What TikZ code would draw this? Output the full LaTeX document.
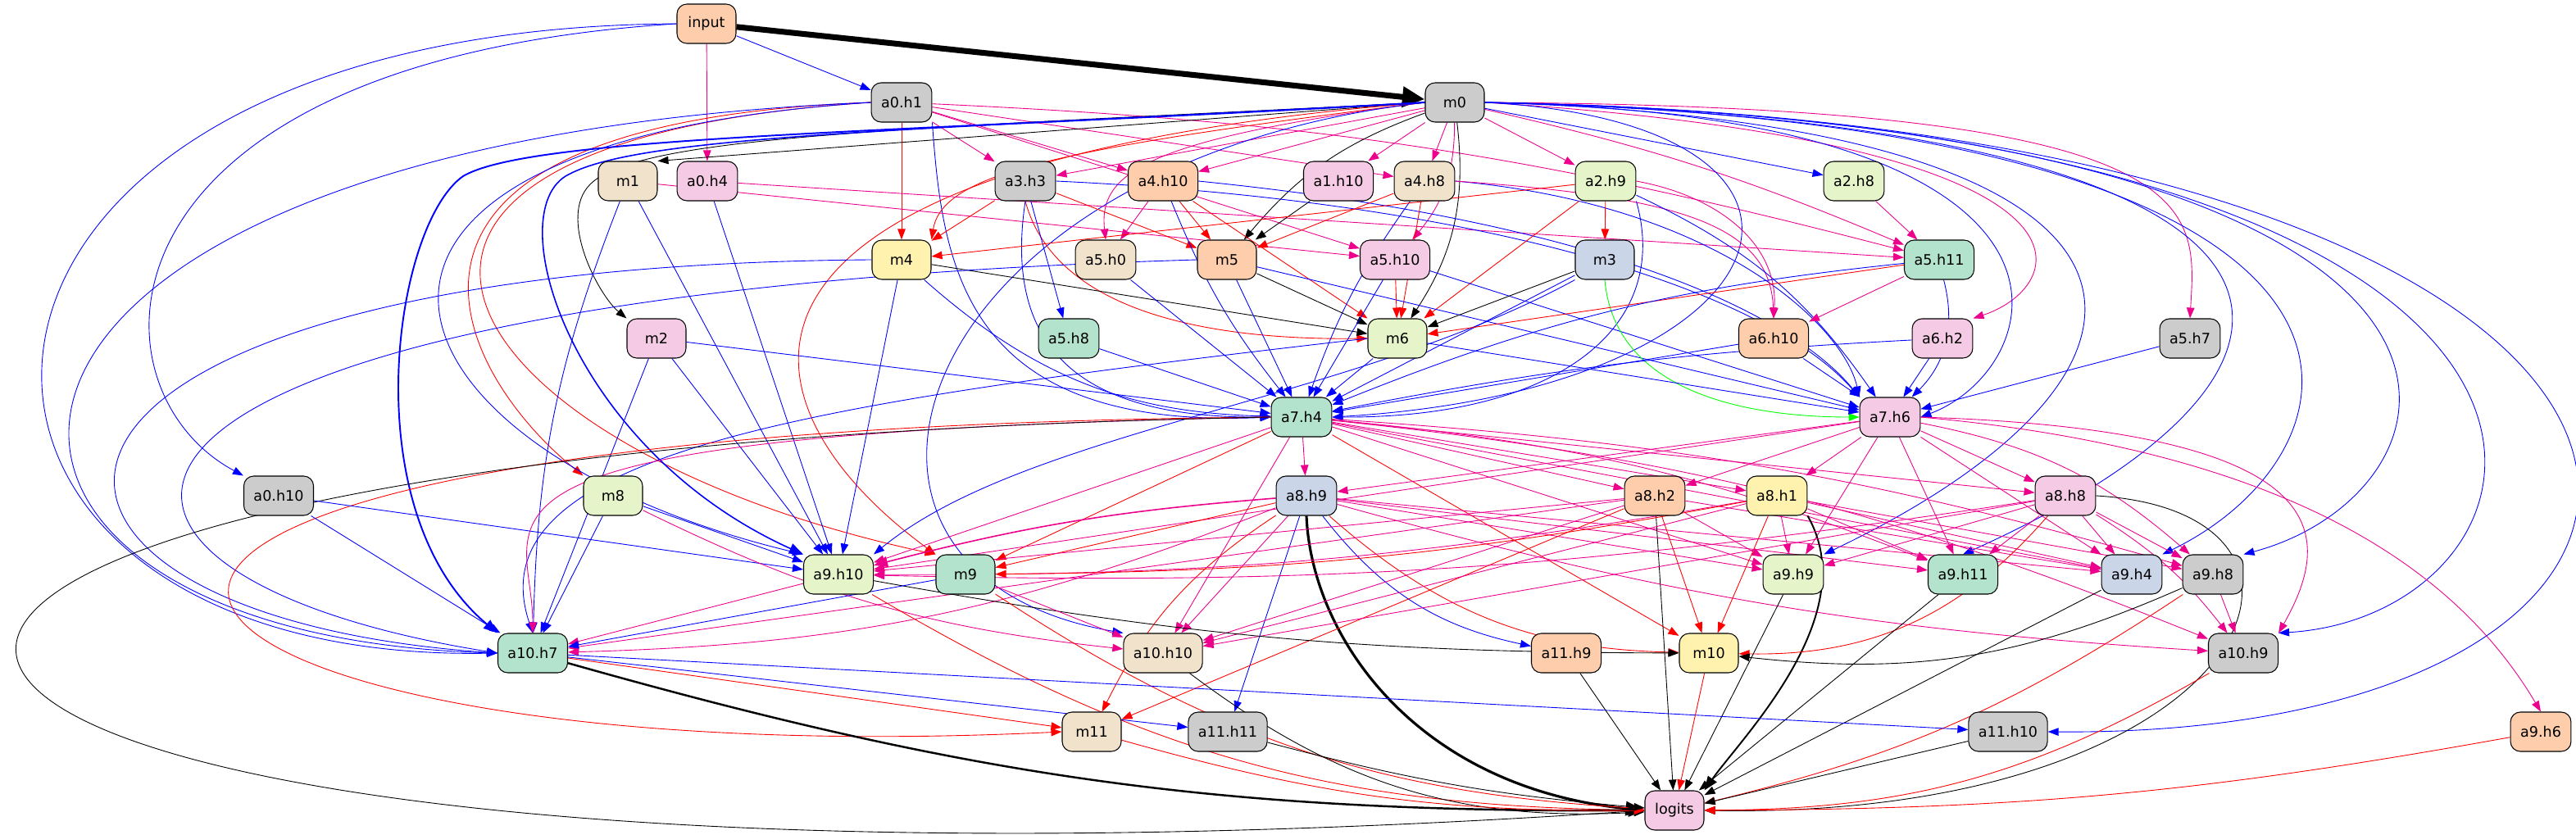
\documentclass[tikz,border=0pt]{standalone}
\usepackage{fontspec}
\setmainfont{DejaVu Sans}
\usetikzlibrary{shapes, arrows.meta}
\definecolor{pmint}{HTML}{B3E2CD}
\definecolor{ppeach}{HTML}{FDCDAC}
\definecolor{pblue}{HTML}{CBD5E8}
\definecolor{ppink}{HTML}{F4CAE4}
\definecolor{pgreen}{HTML}{E6F5C9}
\definecolor{pyellow}{HTML}{FFF2AE}
\definecolor{pbeige}{HTML}{F1E2CC}
\definecolor{pgray}{HTML}{CCCCCC}
\pgfdeclarelayer{edges}
\pgfsetlayers{edges,main}
\tikzstyle{box} = [rectangle, rounded corners=0.24cm, minimum width=1.44cm, minimum height=0.96cm, inner xsep=0.24cm, text centered, draw=black, line width=0.6pt, font=\fontsize{10}{12}\selectfont]
\tikzstyle{mintbox} = [box, fill=pmint]
\tikzstyle{peachbox} = [box, fill=ppeach]
\tikzstyle{bluebox} = [box, fill=pblue]
\tikzstyle{pinkbox} = [box, fill=ppink]
\tikzstyle{greenbox} = [box, fill=pgreen]
\tikzstyle{yellowbox} = [box, fill=pyellow]
\tikzstyle{beigebox} = [box, fill=pbeige]
\tikzstyle{graybox} = [box, fill=pgray]
\tikzstyle{conn} = [line width=0.5pt, ->, >={Triangle[length=0.26cm, width=0.19cm]}]
\tikzstyle{bluearrow} = [conn, draw=blue]
\tikzstyle{pinkarrow} = [conn, draw=magenta]
\tikzstyle{redarrow} = [conn, draw=red]
\tikzstyle{blackarrow} = [conn, draw=black]
\tikzstyle{greenarrow} = [conn, draw=green]
\tikzstyle{heavy} = [>={Triangle[length=0.34cm, width=0.26cm]}]
\begin{document}
\begin{tikzpicture}
    \useasboundingbox (0,0) rectangle (62.86,-20.38);
    \node (input) [peachbox] at (17.24,-0.58) {input};
    \node (a0h1) [graybox] at (22.00,-2.50) {a0.h1};
    \node (m0) [graybox] at (35.50,-2.50) {m0};
    \node (m1) [beigebox] at (15.32,-4.42) {m1};
    \node (a0h4) [pinkbox] at (17.26,-4.42) {a0.h4};
    \node (a3h3) [graybox] at (25.02,-4.42) {a3.h3};
    \node (a4h10) [peachbox] at (28.38,-4.42) {a4.h10};
    \node (a1h10) [pinkbox] at (32.66,-4.42) {a1.h10};
    \node (a4h8) [beigebox] at (34.76,-4.42) {a4.h8};
    \node (a2h9) [greenbox] at (39.18,-4.42) {a2.h9};
    \node (a2h8) [greenbox] at (45.24,-4.42) {a2.h8};
    \node (m4) [yellowbox] at (22.00,-6.34) {m4};
    \node (a5h0) [beigebox] at (26.98,-6.34) {a5.h0};
    \node (m5) [peachbox] at (29.94,-6.34) {m5};
    \node (a5h10) [pinkbox] at (34.04,-6.34) {a5.h10};
    \node (m3) [bluebox] at (39.16,-6.34) {m3};
    \node (a5h11) [mintbox] at (47.32,-6.34) {a5.h11};
    \node (m2) [pinkbox] at (16.02,-8.26) {m2};
    \node (a5h8) [mintbox] at (26.08,-8.26) {a5.h8};
    \node (m6) [greenbox] at (34.10,-8.26) {m6};
    \node (a6h10) [peachbox] at (43.28,-8.26) {a6.h10};
    \node (a6h2) [pinkbox] at (47.40,-8.26) {a6.h2};
    \node (a5h7) [graybox] at (53.44,-8.26) {a5.h7};
    \node (a7h4) [mintbox] at (31.76,-10.18) {a7.h4};
    \node (a7h6) [pinkbox] at (46.12,-10.18) {a7.h6};
    \node (a0h10) [graybox] at (6.80,-12.10) {a0.h10};
    \node (m8) [greenbox] at (14.96,-12.10) {m8};
    \node (a8h9) [bluebox] at (31.88,-12.10) {a8.h9};
    \node (a8h2) [peachbox] at (40.38,-12.10) {a8.h2};
    \node (a8h1) [yellowbox] at (43.36,-12.10) {a8.h1};
    \node (a8h8) [pinkbox] at (50.40,-12.10) {a8.h8};
    \node (a9h10) [greenbox] at (20.46,-14.02) {a9.h10};
    \node (m9) [mintbox] at (23.56,-14.02) {m9};
    \node (a9h9) [greenbox] at (43.76,-14.02) {a9.h9};
    \node (a9h11) [mintbox] at (47.90,-14.02) {a9.h11};
    \node (a9h4) [bluebox] at (52.02,-14.02) {a9.h4};
    \node (a9h8) [graybox] at (54.00,-14.02) {a9.h8};
    \node (a10h7) [mintbox] at (13.00,-15.94) {a10.h7};
    \node (a10h10) [beigebox] at (28.38,-15.94) {a10.h10};
    \node (a11h9) [peachbox] at (38.22,-15.94) {a11.h9};
    \node (m10) [yellowbox] at (41.70,-15.94) {m10};
    \node (a10h9) [graybox] at (54.74,-15.94) {a10.h9};
    \node (m11) [beigebox] at (26.64,-17.86) {m11};
    \node (a11h11) [graybox] at (29.96,-17.86) {a11.h11};
    \node (a11h10) [graybox] at (49.00,-17.86) {a11.h10};
    \node (a9h6) [peachbox] at (62.00,-17.86) {a9.h6};
    \node (logits) [pinkbox] at (40.86,-19.78) {logits};

    \begin{pgfonlayer}{edges}
    \draw [blackarrow, line width=4pt, >={Triangle[length=0.55cm, width=0.48cm]}] (input) -- (m0);
    \draw [bluearrow] (input) -- (a0h1);
    \draw [pinkarrow] (input) -- (a0h4);
    \draw [bluearrow] (input.west) .. controls (-3.3,-0.7) and (-3.3,-16.2) .. (a10h7.west);
    \draw [bluearrow] (input.west) .. controls (2.0,-1.5) and (2.0,-9.5) .. (a0h10.north west);

    \draw [pinkarrow] (a0h1) -- (a3h3);
    \draw [pinkarrow] (a0h1) -- (a4h10);
    \draw [pinkarrow] (a0h1) -- (a4h8);
    \draw [pinkarrow] (a0h1) -- (a5h10);
    \draw [pinkarrow] (a0h1) to[bend left=6] (a5h11);
    \draw [redarrow] (a0h1) -- (m4);
    \draw [redarrow] (a0h1.west) .. controls (8,-3) and (11,-9) .. (m8.north west);
    \draw [redarrow] (a0h1.west) .. controls (6,-3.5) and (11,-11) .. (m9.north west);
    \draw [bluearrow] (a0h1.south east) .. controls (23,-6.5) and (23.5,-10.5) .. (a7h4.west);
    \draw [bluearrow] (a0h1.west) .. controls (-3,-3.5) and (-3,-15.5) .. (a10h7.west);
    \draw [bluearrow] (a0h1.west) .. controls (6,-3.5) and (9,-11) .. (a9h10.north west);

    \draw [blackarrow] (m0.west) -- (m1.north east);
    \draw [blackarrow] (m0.west) .. controls (22,-3.15) and (15.6,-3.3) .. (14.4,-4.5) .. controls (13.6,-5.3) and (14.6,-7.2) .. (m2.north west);
    \draw [pinkarrow] (m0) -- (a3h3);
    \draw [pinkarrow] (m0) -- (a4h10);
    \draw [pinkarrow] (m0) -- (a1h10);
    \draw [pinkarrow] (m0) -- (a4h8);
    \draw [pinkarrow] (m0) -- (a2h9);
    \draw [bluearrow] (m0) -- (a2h8);
    \draw [redarrow] (m0.west) .. controls (26,-3.6) and (23,-4.2) .. (m4.north east);
    \draw [pinkarrow] (m0.west) .. controls (28,-3.4) and (26.8,-4.2) .. (a5h0.north);
    \draw [blackarrow] (m0) to[bend right=15] (m5);
    \draw [pinkarrow] (m0) to[bend left=20] (a5h10);
    \draw [blackarrow] (m0) to[bend left=20] (m6);
    \draw [pinkarrow] (m0) to[bend left=5] (a5h11);
    \draw [pinkarrow] (m0.east) .. controls (52,-3.5) and (50.5,-7) .. (a6h2.north east);
    \draw [pinkarrow] (m0.east) .. controls (54,-2.6) and (53.6,-5) .. (a5h7.north);
    \draw [bluearrow] (m0.east) .. controls (52,-2.8) and (50,-9) .. (a7h6.east);
    \draw [bluearrow] (m0.east) .. controls (46,-3) and (44,-9.5) .. (a7h4.east);
    \draw [bluearrow] (m0.east) .. controls (54,-3) and (54,-9) .. (a9h9.north east);
    \draw [bluearrow] (m0.east) .. controls (58,-3) and (58,-9) .. (a9h11.north);
    \draw [bluearrow] (m0.east) .. controls (60,-3) and (58,-11) .. (a9h4.north east);
    \draw [bluearrow] (m0.east) .. controls (63,-3) and (60.5,-12) .. (a9h8.north east);
    \draw [bluearrow] (m0.east) .. controls (66,-3) and (63,-15) .. (a10h9.north east);
    \draw [bluearrow] (m0.east) .. controls (69,-3) and (69,-18) .. (a11h10.east);
    \draw [redarrow] (m0.west) .. controls (16,-4) and (18,-10) .. (m9.north west);
    \draw [bluearrow, line width=1.1pt, heavy] (m0.west) .. controls (22,-3.25) and (13,-3.3) .. (11.3,-4.3) .. controls (9.6,-5.5) and (8.6,-12.5) .. (a10h7.north west);
    \draw [bluearrow, line width=0.9pt, heavy] (m0.west) .. controls (22,-3.2) and (15.5,-3.3) .. (13.8,-4.3) .. controls (12.2,-5.3) and (14,-11) .. (a9h10.north west);
    \draw [bluearrow] (m0.west) .. controls (22,-4) and (19,-14) .. (a10h10.north west);

    \draw [pinkarrow] (a0h4) -- (a5h11);
    \draw [bluearrow] (a0h4) -- (a9h10);
    \draw [pinkarrow] (m1) -- (a5h10);
    \draw [bluearrow] (m1) to[bend right=10] (a10h7);
    \draw [bluearrow] (m1) -- (a9h10);

    \draw [redarrow] (a3h3) -- (m4);
    \draw [redarrow] (a3h3) -- (m5);
    \draw [redarrow] (a3h3.south) .. controls (25.8,-7.8) and (30,-8.3) .. (m6.west);
    \draw [bluearrow] (a3h3) -- (a5h8);
    \draw [bluearrow] (a3h3.south) .. controls (24.4,-9) and (27,-10.2) .. (a7h4.west);
    \draw [bluearrow] (a3h3.east) .. controls (36,-4.9) and (43,-7) .. (a7h6.north west);
    \draw [pinkarrow] (a4h10) -- (a5h0);
    \draw [redarrow] (a4h10) -- (m5);
    \draw [redarrow] (a4h10) -- (m6);
    \draw [bluearrow] (a4h10) to[bend right=8] (a7h4);
    \draw [bluearrow] (a4h10.east) .. controls (40,-5.5) and (44,-8) .. (a7h6.north west);
    \draw [blackarrow] (a1h10) -- (m5);
    \draw [redarrow] (a4h8) -- (m5);
    \draw [redarrow] (a4h8) -- (m6);
    \draw [bluearrow] (a4h8) to[bend right=8] (a7h4);
    \draw [bluearrow] (a4h8.east) .. controls (42,-5) and (45,-8) .. (a7h6.north west);
    \draw [pinkarrow] (a4h8.east) .. controls (41,-4.8) and (43.2,-5.5) .. (a6h10.north);
    \draw [redarrow] (a2h9) -- (m4);
    \draw [redarrow] (a2h9) -- (m3);
    \draw [redarrow] (a2h9) -- (m6);
    \draw [bluearrow] (a2h9.south east) .. controls (40.8,-8) and (38,-10.2) .. (a7h4.east);
    \draw [bluearrow] (a2h9) to[bend left=15] (a7h6);
    \draw [pinkarrow] (a2h9.east) .. controls (42,-4.8) and (43.4,-6) .. (a6h10.north);
    \draw [pinkarrow] (a2h8) -- (a5h11);

    \draw [blackarrow] (m4) -- (m6);
    \draw [bluearrow] (m4) to[bend right=20] (a7h4);
    \draw [bluearrow] (m4) -- (a9h10);
    \draw [bluearrow] (m4.west) .. controls (-1.5,-6.5) and (-1.5,-15) .. (a10h7.west);
    \draw [bluearrow] (a5h0) -- (a7h4);
    \draw [blackarrow] (m5) -- (m6);
    \draw [bluearrow] (m5) -- (a7h4);
    \draw [bluearrow] (m5) -- (a7h6);
    \draw [bluearrow] (m5.west) .. controls (0,-7.2) and (0,-14) .. (a10h7.west);
    \draw [redarrow] (a5h10) -- (m6);
    \draw [bluearrow] (a5h10) -- (a7h4);
    \draw [bluearrow] (a5h10) -- (a7h6);
    \draw [blackarrow] (m3) -- (m6);
    \draw [bluearrow] (m3) -- (a7h4);
    \draw [greenarrow] (m3.south) to[out=-85, in=180] (a7h6.west);
    \draw [bluearrow] (m3.south west) .. controls (33,-9.8) and (25,-10.5) .. (a9h10.north east);
    \draw [redarrow] (a5h11) -- (m6);
    \draw [pinkarrow] (a5h11) -- (a6h10);
    \draw [bluearrow] (a5h11) to[bend right=8] (a7h4);
    \draw [bluearrow] (a5h11) to[bend left=30] (a7h6);

    \draw [bluearrow] (m2) -- (a7h4);
    \draw [bluearrow] (m2) -- (a9h10);
    \draw [bluearrow] (m2) -- (a10h7);
    \draw [bluearrow] (a5h8) -- (a7h4);
    \draw [bluearrow] (m6) -- (a7h4);
    \draw [bluearrow] (m6) -- (a7h6);
    \draw [bluearrow] (m6.west) .. controls (20,-9.8) and (11.5,-11) .. (a10h7.north);
    \draw [bluearrow] (a6h10) -- (a7h4);
    \draw [bluearrow] (a6h10) -- (a7h6);
    \draw [bluearrow] (a6h2) to[bend right=4] (a7h4);
    \draw [bluearrow] (a6h2) -- (a7h6);
    \draw [bluearrow] (a5h7) -- (a7h6);

    \draw [pinkarrow] (a7h4) -- (a8h9);
    \draw [pinkarrow] (a7h4) -- (a8h2);
    \draw [pinkarrow] (a7h4) -- (a8h1);
    \draw [pinkarrow] (a7h4) -- (a8h8);
    \draw [pinkarrow] (a7h4) -- (a9h10);
    \draw [pinkarrow] (a7h4) -- (a9h9);
    \draw [pinkarrow] (a7h4) to[bend left=8] (a9h11);
    \draw [pinkarrow] (a7h4) -- (a9h4);
    \draw [pinkarrow] (a7h4) to[bend left=6] (a9h8);
    \draw [pinkarrow] (a7h4) to[bend left=8] (a10h9);
    \draw [pinkarrow] (a7h4.west) .. controls (10,-10.6) and (13,-12.5) .. (a10h7.north);
    \draw [pinkarrow] (a7h4) -- (a10h10);
    \draw [redarrow] (a7h4) -- (m9);
    \draw [redarrow] (a7h4) -- (m10);
    \draw [redarrow] (a7h4.west) .. controls (-6,-10.5) and (2,-19) .. (m11.west);
    \draw [blackarrow] (a7h4.west) .. controls (-14,-11) and (-8,-23) .. (logits.west);

    \draw [pinkarrow] (a7h6) -- (a8h9);
    \draw [pinkarrow] (a7h6) -- (a8h2);
    \draw [pinkarrow] (a7h6) -- (a8h1);
    \draw [pinkarrow] (a7h6) -- (a8h8);
    \draw [pinkarrow] (a7h6) -- (a9h10);
    \draw [pinkarrow] (a7h6) -- (a9h9);
    \draw [pinkarrow] (a7h6) -- (a9h11);
    \draw [pinkarrow] (a7h6) -- (a9h4);
    \draw [pinkarrow] (a7h6) to[bend left=15] (a9h8);
    \draw [pinkarrow] (a7h6.east) .. controls (57,-10.5) and (57,-13) .. (a10h9.north east);
    \draw [pinkarrow] (a7h6.east) .. controls (56,-11) and (60,-14) .. (a9h6.north);

    \draw [pinkarrow, line width=0.9pt, heavy] (a8h9) to[bend right=5] (a9h10);
    \draw [redarrow] (a8h9) -- (m9);
    \draw [pinkarrow] (a8h9) -- (a10h10);
    \draw [pinkarrow] (a8h9) to[bend left=10] (a10h7);
    \draw [redarrow] (a8h9) to[bend right=15] (m11);
    \draw [bluearrow] (a8h9) -- (a11h11);
    \draw [bluearrow] (a8h9) to[bend right=20] (a11h9);
    \draw [redarrow] (a8h9) to[bend right=20] (m10);
    \draw [blackarrow, line width=1.8pt, >={Triangle[length=0.46cm, width=0.34cm]}] (a8h9.south) .. controls (32,-15.5) and (34.5,-19.2) .. (logits.west);
    \draw [pinkarrow] (a8h9) -- (a9h9);
    \draw [pinkarrow] (a8h9) -- (a9h11);
    \draw [pinkarrow] (a8h9) -- (a9h4);
    \draw [pinkarrow] (a8h9) to[bend right=6] (a10h9);

    \draw [pinkarrow] (a8h2) -- (a9h10);
    \draw [pinkarrow] (a8h2) -- (a9h9);
    \draw [pinkarrow] (a8h2) -- (a9h4);
    \draw [pinkarrow] (a8h2) -- (a10h10);
    \draw [pinkarrow] (a8h2) -- (a10h7);
    \draw [redarrow] (a8h2) -- (m10);
    \draw [redarrow] (a8h2) -- (m11);
    \draw [blackarrow] (a8h2) -- (logits);
    \draw [pinkarrow] (a8h1) to[bend left=5] (a9h10);
    \draw [redarrow] (a8h1) to[bend left=5] (m9);
    \draw [pinkarrow] (a8h1) -- (a9h9);
    \draw [pinkarrow] (a8h1) -- (a9h11);
    \draw [pinkarrow] (a8h1) -- (a9h4);
    \draw [pinkarrow] (a8h1) -- (a9h8);
    \draw [pinkarrow] (a8h1) -- (a10h10);
    \draw [redarrow] (a8h1) -- (m10);
    \draw [blackarrow, line width=1.1pt, heavy] (a8h1.south east) .. controls (45.5,-15) and (42.5,-18) .. (logits.north east);
    \draw [pinkarrow] (a8h8) to[bend left=5] (a9h10);
    \draw [pinkarrow] (a8h8) -- (a9h9);
    \draw [pinkarrow] (a8h8) -- (a9h11);
    \draw [pinkarrow] (a8h8) -- (a9h4);
    \draw [pinkarrow] (a8h8) -- (a9h8);
    \draw [pinkarrow] (a8h8) to[bend left=10] (a10h9);
    \draw [pinkarrow] (a8h8) -- (a10h10);
    \draw [redarrow] (a8h8) to[bend left=25] (m10);
    \draw [blackarrow] (a8h8.east) .. controls (58,-12.5) and (55,-20) .. (logits.east);

    \draw [bluearrow] (a0h10) -- (a9h10);
    \draw [bluearrow] (a0h10) -- (a10h7);
    \draw [bluearrow] (m8) -- (a9h10);
    \draw [bluearrow] (m8) -- (a10h7);
    \draw [pinkarrow] (m8) to[bend right=10] (a10h10);
    \draw [pinkarrow] (a9h10) -- (a10h7);
    \draw [blackarrow] (a9h10) to[bend right=5] (m10);
    \draw [redarrow] (a9h10) to[bend right=15] (logits);
    \draw [bluearrow] (m9) -- (a10h7);
    \draw [pinkarrow] (m9) -- (a10h10);
    \draw [redarrow] (m9) to[bend right=15] (logits);
    \draw [blackarrow] (a9h9) -- (logits);
    \draw [blackarrow] (a9h11) -- (logits);
    \draw [blackarrow] (a9h4) -- (logits);
    \draw [pinkarrow] (a9h8) -- (a10h9);
    \draw [blackarrow] (a9h8) to[bend left=15] (m10);
    \draw [redarrow] (a9h8) to[bend left=10] (logits);

    \draw [redarrow] (a10h7) -- (m11);
    \draw [bluearrow] (a10h7) -- (a11h11);
    \draw [bluearrow] (a10h7) -- (a11h10);
    \draw [blackarrow, line width=1.4pt, >={Triangle[length=0.4cm, width=0.3cm]}] (a10h7) to[bend right=8] (logits);
    \draw [blackarrow] (a10h10) to[bend right=20] (logits);
    \draw [blackarrow] (a11h9) -- (logits);
    \draw [redarrow] (m10) -- (logits);
    \draw [redarrow] (a10h9) to[bend left=15] (logits);
    \draw [redarrow] (m11) to[bend right=8] (logits);
    \draw [blackarrow] (a11h11) to[bend right=5] (logits);
    \draw [blackarrow] (a11h10) -- (logits);
    \draw [redarrow] (a9h6) to[bend left=5] (logits);
    \end{pgfonlayer}
\end{tikzpicture}
\end{document}
